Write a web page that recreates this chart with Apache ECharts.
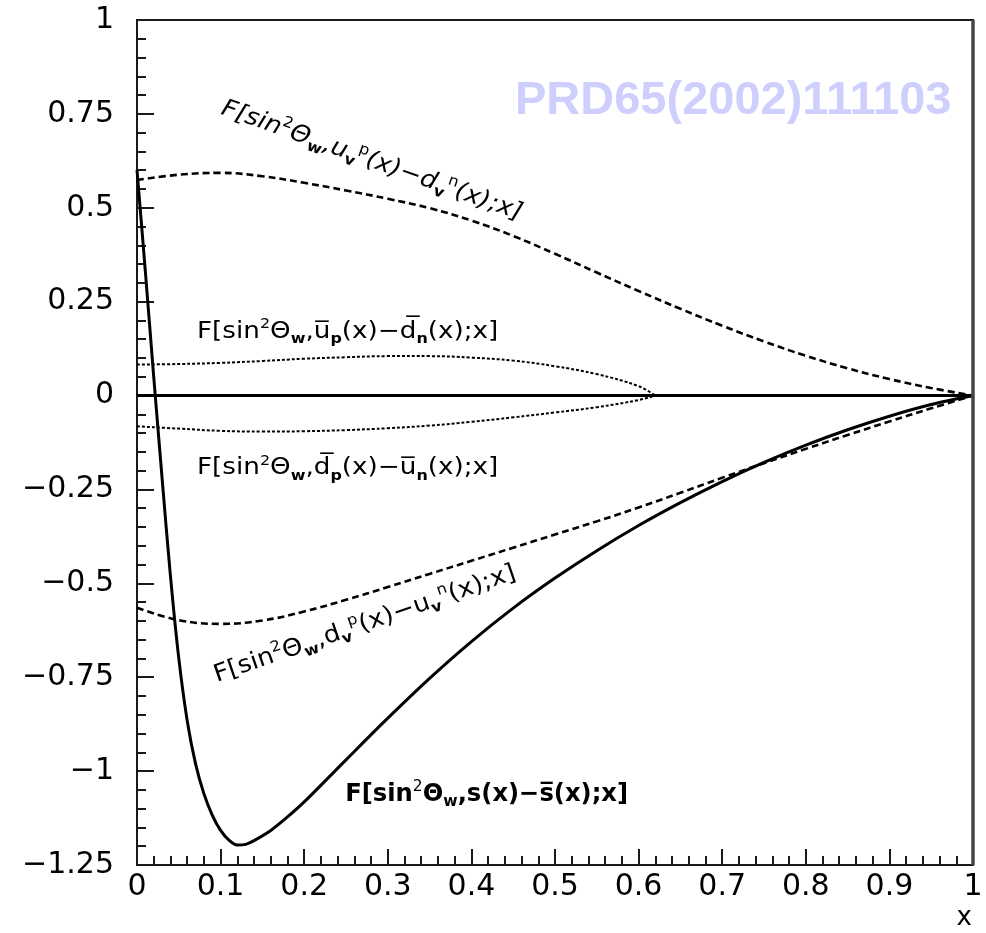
<!DOCTYPE html>
<html>
<head>
<meta charset="utf-8">
<script src="https://cdn.jsdelivr.net/npm/echarts@6/dist/echarts.min.js"></script>
<style>
  html, body { margin: 0; padding: 0; background: #fff; }
  #chart { width: 986px; height: 933px; }
</style>
</head>
<body>
<div id="chart"></div>
<script>
// F[sin^2 theta_W, q(x) - q'(x); x] curves, sampled in x

// reference line at zero
const zeroX = [0, 1];
const zeroY = [0, 0];

// F[...; s(x) - sbar(x); x]  (solid)
const sX = [0, 0.01, 0.02, 0.03, 0.04, 0.05, 0.06, 0.07, 0.08, 0.09, 0.10, 0.11, 0.12, 0.13, 0.14, 0.16, 0.18, 0.20, 0.25, 0.30, 0.35, 0.40, 0.45, 0.50, 0.55, 0.60, 0.65, 0.70, 0.75, 0.80, 0.85, 0.90, 0.95, 1.00];
const sY = [0.60, 0.33, 0.05, -0.22, -0.48, -0.70, -0.865, -0.98, -1.06, -1.117, -1.158, -1.184, -1.197, -1.195, -1.185, -1.158, -1.122, -1.082, -0.970, -0.859, -0.753, -0.655, -0.566, -0.486, -0.413, -0.346, -0.285, -0.229, -0.178, -0.132, -0.091, -0.055, -0.024, 0];

// F[...; u_v^p(x) - d_v^n(x); x]  (dashed, upper)
const uvX = [0, 0.05, 0.10, 0.15, 0.20, 0.25, 0.30, 0.35, 0.40, 0.45, 0.50, 0.55, 0.60, 0.65, 0.70, 0.75, 0.80, 0.85, 0.90, 0.95, 1.00];
const uvY = [0.574, 0.588, 0.593, 0.584, 0.5665, 0.546, 0.524, 0.499, 0.466, 0.425, 0.3775, 0.3275, 0.2785, 0.231, 0.186, 0.144, 0.106, 0.0725, 0.044, 0.020, 0];

// F[...; d_v^p(x) - u_v^n(x); x]  (dashed, lower)
const dvX = [0, 0.05, 0.10, 0.15, 0.20, 0.25, 0.30, 0.35, 0.40, 0.45, 0.50, 0.55, 0.60, 0.65, 0.70, 0.75, 0.80, 0.85, 0.90, 0.95, 1.00];
const dvY = [-0.565, -0.598, -0.608, -0.599, -0.575, -0.544, -0.510, -0.475, -0.440, -0.405, -0.370, -0.335, -0.298, -0.259, -0.219, -0.180, -0.142, -0.105, -0.069, -0.034, 0];

// F[...; ubar_p(x) - dbar_n(x); x]  (dotted, upper)
const ubX = [0, 0.05, 0.10, 0.15, 0.20, 0.25, 0.30, 0.35, 0.40, 0.45, 0.50, 0.55, 0.60, 0.62];
const ubY = [0.0825, 0.084, 0.087, 0.092, 0.098, 0.102, 0.105, 0.105, 0.101, 0.093, 0.078, 0.057, 0.025, 0];

// F[...; dbar_p(x) - ubar_n(x); x]  (dotted, lower)
const dbX = [0, 0.05, 0.10, 0.15, 0.20, 0.25, 0.30, 0.35, 0.40, 0.45, 0.50, 0.55, 0.60, 0.62];
const dbY = [-0.082, -0.088, -0.094, -0.096, -0.095, -0.092, -0.087, -0.08, -0.07, -0.058, -0.045, -0.031, -0.012, 0];

// axis ranges
const xRange = [0, 1, 0.1];
const yRange = [-1.25, 1, 0.25];

const pairs = (xs, ys) => xs.map((x, i) => [x, ys[i]]);
const INK = '#000';
const FRAME = '#1a1a1a';

const chart = echarts.init(document.getElementById('chart'), null, { renderer: 'canvas' });

function curve(xs, ys, dash, width, smooth) {
  return {
    type: 'line',
    data: pairs(xs, ys),
    symbol: 'none',
    smooth: smooth,
    lineStyle: { color: INK, width: width, type: dash },
    z: 3
  };
}

const axisFont = { fontFamily: 'DejaVu Sans', fontSize: 30, color: '#000' };
const minus = v => String(v).replace('-', '\u2212');

chart.setOption({
  animation: false,
  backgroundColor: '#fff',
  grid: { left: 137, right: 13, top: 20, bottom: 68, show: true, borderColor: FRAME, borderWidth: 2, backgroundColor: 'transparent' },
  xAxis: {
    type: 'value', min: xRange[0], max: xRange[1], interval: xRange[2],
    axisLine: { show: true, onZero: false, lineStyle: { color: FRAME, width: 2 } },
    axisTick: { show: true, inside: true, length: 16, lineStyle: { color: FRAME, width: 2 } },
    minorTick: { show: true, splitNumber: 5, length: 9, lineStyle: { color: FRAME, width: 2 } },
    splitLine: { show: false },
    axisLabel: Object.assign({ margin: 7, formatter: minus }, axisFont)
  },
  yAxis: {
    type: 'value', min: yRange[0], max: yRange[1], interval: yRange[2],
    axisLine: { show: true, onZero: false, lineStyle: { color: FRAME, width: 2 } },
    axisTick: { show: true, inside: true, length: 17, lineStyle: { color: FRAME, width: 2 } },
    minorTick: { show: true, splitNumber: 5, length: 9, lineStyle: { color: FRAME, width: 2 } },
    splitLine: { show: false },
    axisLabel: Object.assign({ margin: 23, formatter: minus }, axisFont)
  },
  series: [
    curve(zeroX, zeroY, 'solid', 3, false),
    curve(sX, sY, 'solid', 3, 0.3),
    curve(uvX, uvY, [7, 4], 2.6, 0.4),
    curve(dvX, dvY, [7, 4], 2.6, 0.4),
    curve(ubX, ubY, [3, 2], 2, 0.4),
    curve(dbX, dbY, [3, 2], 2, 0.4)
  ]
});

// curve captions, anchored in data coordinates (left edge, vertical middle)
function richStyle(size, extra) {
  const sm = Math.round(size * 0.62);
  return Object.assign({
    fontFamily: 'DejaVu Sans',
    fontSize: size,
    lineHeight: size + 6,
    fill: '#000',
    align: 'left',
    verticalAlign: 'middle',
    rich: {
      sup: { fontSize: sm, lineHeight: sm, verticalAlign: 'top', fontFamily: 'DejaVu Sans' },
      sub: { fontSize: sm, lineHeight: sm, verticalAlign: 'bottom', fontFamily: 'DejaVu Sans', fontWeight: 'bold' }
    }
  }, extra || {});
}

const captions = [
  { at: [0.1017, 0.766], rot: -19.5, sx: 1.08, size: 24,
    text: 'F[sin{sup|2}\u0398{sub|w},u{sub|v}{sup|p}(x)\u2212d{sub|v}{sup|n}(x);x]', style: { fontStyle: 'italic' } },
  { at: [0.0718, 0.170], rot: 0, sx: 1.14, size: 23,
    text: 'F[sin{sup|2}\u0398{sub|w},u\u0305{sub|p}(x)\u2212d\u0305{sub|n}(x);x]' },
  { at: [0.0718, -0.194], rot: 0, sx: 1.14, size: 23,
    text: 'F[sin{sup|2}\u0398{sub|w},d\u0305{sub|p}(x)\u2212u\u0305{sub|n}(x);x]' },
  { at: [0.093, -0.747], rot: 19, sx: 1.08, size: 24,
    text: 'F[sin{sup|2}\u0398{sub|w},d{sub|v}{sup|p}(x)\u2212u{sub|v}{sup|n}(x);x]' },
  { at: [0.249, -1.061], rot: 0, sx: 0.97, size: 25,
    text: 'F[sin{sup|2}\u0398{sub|w},s(x)\u2212s\u0305(x);x]', style: { fontWeight: 'bold' } }
];

const graphics = captions.map(c => {
  const p = chart.convertToPixel({ gridIndex: 0 }, c.at);
  return {
    type: 'text', x: p[0], y: p[1], rotation: c.rot * Math.PI / 180, scaleX: c.sx, z: 10,
    style: richStyle(c.size, Object.assign({ text: c.text }, c.style || {}))
  };
});

// heavier right edge of the frame
const corner = chart.convertToPixel({ gridIndex: 0 }, [xRange[1], yRange[1]]);
const base = chart.convertToPixel({ gridIndex: 0 }, [xRange[1], yRange[0]]);
graphics.push({
  type: 'line', z: 5,
  shape: { x1: corner[0], y1: corner[1], x2: base[0], y2: base[1] },
  style: { stroke: '#444', lineWidth: 3.5 }
});

graphics.push({
  type: 'text', left: 515, top: 78, z: 1,
  style: { text: 'PRD65(2002)111103', fontFamily: 'Liberation Sans', fontWeight: 'bold', fontSize: 47, fill: '#cfcffd' }
});
graphics.push({
  type: 'text', right: 14, top: 905, z: 10,
  style: { text: 'x', fontFamily: 'DejaVu Sans', fontSize: 26, fill: '#000' }
});

chart.setOption({ graphic: graphics });
</script>
</body>
</html>
